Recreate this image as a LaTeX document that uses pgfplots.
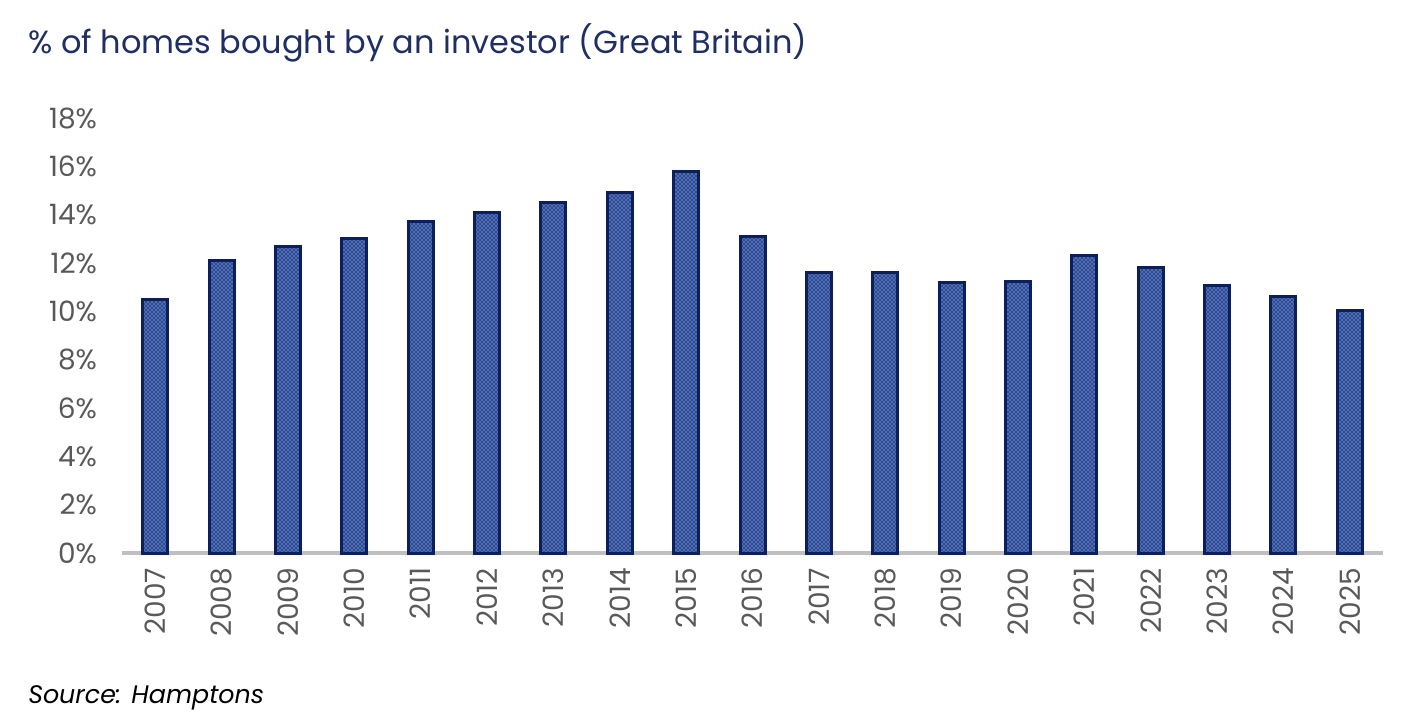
\documentclass[border=0pt]{standalone}
\usepackage{fontspec}
\setmainfont{Poppins}
\usepackage{pgfplots}
\pgfplotsset{compat=1.18}
\usetikzlibrary{patterns}

\definecolor{navy}{HTML}{0A1F5C}
\definecolor{barblue}{HTML}{2C4C9A}
\definecolor{ticktext}{HTML}{595959}
\definecolor{titlecol}{HTML}{1F2F63}
\definecolor{axisgray}{HTML}{BFBFBF}

\begin{document}
\begin{tikzpicture}
% 1 px of the reference = 0.75pt
\path[use as bounding box] (0,0) rectangle (1062pt,-544.5pt);
\node[anchor=base west, inner sep=0pt, text=titlecol, font=\fontsize{24}{28}\selectfont]
  at (21pt,-39.75pt) {\% of homes bought by an investor (Great Britain)};
\node[anchor=base west, inner sep=0pt, text=black, font=\fontsize{19}{22}\selectfont\itshape]
  at (21pt,-527.25pt) {Source: Hamptons};
\begin{axis}[
    at={(91.5pt,-414.75pt)}, anchor=south west,
    scale only axis,
    width=945.75pt, height=326.25pt,
    xmin=-0.5, xmax=18.5,
    ymin=0, ymax=18,
    axis x line=bottom, axis y line=left,
    x axis line style={-, draw=axisgray, line width=3pt},
    y axis line style={draw=none},
    major tick length=0pt,
    xtick={0,...,18},
    xticklabels={2007,2008,2009,2010,2011,2012,2013,2014,2015,2016,2017,2018,2019,2020,2021,2022,2023,2024,2025},
    ytick={0,2,...,18},
    yticklabels={0\%,2\%,4\%,6\%,8\%,10\%,12\%,14\%,16\%,18\%},
    xticklabel style={rotate=90, anchor=east, inner sep=0pt, outer sep=11.25pt,
                      text=ticktext, font=\fontsize{21}{24}\selectfont},
    yticklabel style={anchor=east, inner sep=0pt, outer sep=18.75pt,
                      text=ticktext, font=\fontsize{21}{24}\selectfont},
    clip=false,
]
\addplot[ybar, bar width=18.75pt, draw=navy, line width=2.25pt, fill=barblue,
         postaction={pattern=crosshatch dots, pattern color=white!80!barblue}]
  coordinates {
  (0,10.5) (1,12.1) (2,12.7) (3,13.0) (4,13.7) (5,14.1) (6,14.5)
  (7,14.9) (8,15.8) (9,13.1) (10,11.6) (11,11.6) (12,11.2) (13,11.25)
  (14,12.3) (15,11.8) (16,11.05) (17,10.6) (18,10.05)
  };
\end{axis}
\end{tikzpicture}
\end{document}
